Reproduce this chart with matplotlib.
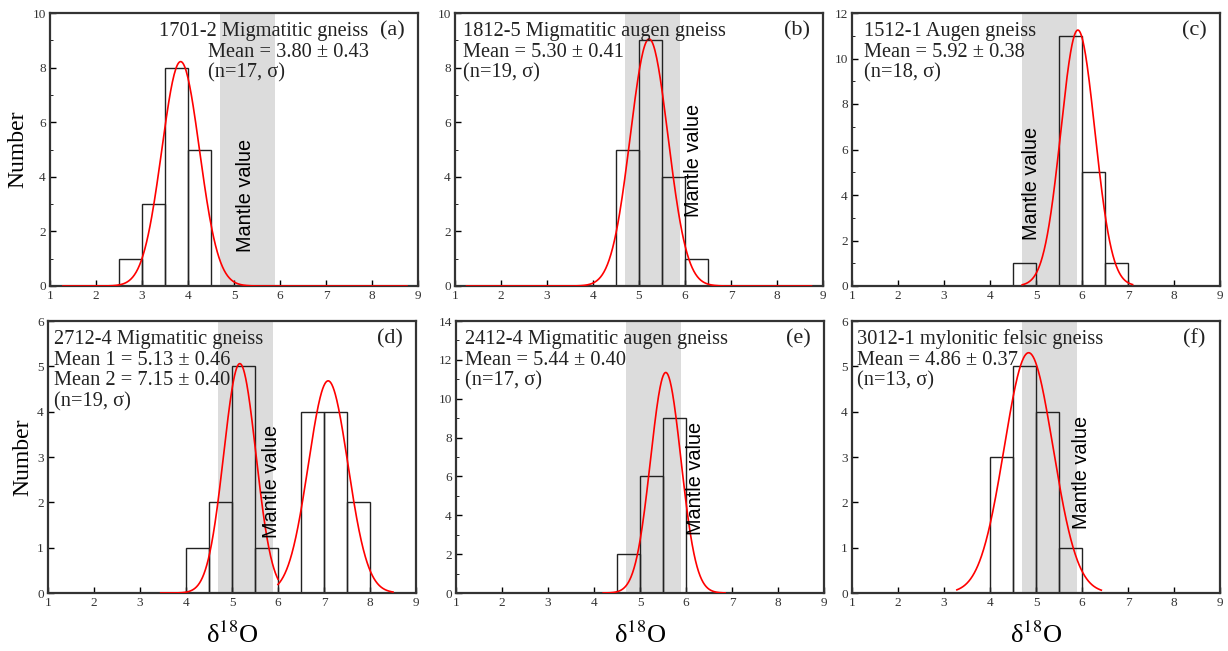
import numpy as np
import matplotlib
matplotlib.use("Agg")
import matplotlib.pyplot as plt
from matplotlib.ticker import MultipleLocator

plt.rcParams['font.family'] = ['Liberation Serif', 'DejaVu Serif']
plt.rcParams['mathtext.fontset'] = 'stix'

# histogram data (left edge of 0.5-wide bins, counts)
a_left = [2.5, 3.0, 3.5, 4.0]
a_counts = [1, 3, 8, 5]
b_left = [4.5, 5.0, 5.5, 6.0]
b_counts = [5, 9, 4, 1]
c_left = [4.5, 5.0, 5.5, 6.0, 6.5]
c_counts = [1, 0, 11, 5, 1]
d_left = [4.0, 4.5, 5.0, 5.5, 6.5, 7.0, 7.5]
d_counts = [1, 2, 5, 1, 4, 4, 2]
e_left = [4.5, 5.0, 5.5]
e_counts = [2, 6, 9]
f_left = [4.0, 4.5, 5.0, 5.5]
f_counts = [3, 5, 4, 1]

# fitted gaussian curves: (center, peak height, width, x start, x end)
a_fit = [(3.84, 8.22, 0.41, 1.28, 8.76)]
b_fit = [(5.22, 9.05, 0.41, 1.25, 8.75)]
c_fit = [(5.91, 11.25, 0.37, 4.70, 7.10)]
d_fit = [(5.17, 5.06, 0.35, 3.45, 6.0), (7.09, 4.68, 0.43, 6.0, 8.5)]
e_fit = [(5.56, 11.35, 0.33, 4.20, 6.85)]
f_fit = [(4.84, 5.30, 0.53, 3.28, 6.42)]

# annotation text
a_text = ["1701-2 Migmatitic gneiss", "Mean = 3.80 \u00b1 0.43", "(n=17, \u03c3)"]
b_text = ["1812-5 Migmatitic augen gneiss", "Mean = 5.30 \u00b1 0.41", "(n=19, \u03c3)"]
c_text = ["1512-1 Augen gneiss", "Mean = 5.92 \u00b1 0.38", "(n=18, \u03c3)"]
d_text = ["2712-4 Migmatitic gneiss", "Mean 1 = 5.13 \u00b1 0.46",
          "Mean 2 = 7.15 \u00b1 0.40", "(n=19, \u03c3)"]
e_text = ["2412-4 Migmatitic augen gneiss", "Mean = 5.44 \u00b1 0.40", "(n=17, \u03c3)"]
f_text = ["3012-1 mylonitic felsic gneiss", "Mean = 4.86 \u00b1 0.37", "(n=13, \u03c3)"]

mantle_lo, mantle_hi = 4.7, 5.9

panels = [
    # letter, left, counts, fits, text, text x (per line), ymax, ymajor, mantle label pos
    ("(a)", a_left, a_counts, a_fit, a_text, [3.37, 4.43, 4.43], 10, 2, (5.24, 3.33)),
    ("(b)", b_left, b_counts, b_fit, b_text, [1.17] * 3, 10, 2, (6.18, 4.6)),
    ("(c)", c_left, c_counts, c_fit, c_text, [1.25] * 3, 12, 2, (4.91, 4.5)),
    ("(d)", d_left, d_counts, d_fit, d_text, [1.12] * 4, 6, 1, (5.86, 2.45)),
    ("(e)", e_left, e_counts, e_fit, e_text, [1.2] * 3, 14, 2, (6.2, 5.92)),
    ("(f)", f_left, f_counts, f_fit, f_text, [1.1] * 3, 6, 1, (5.99, 2.67)),
]

fig = plt.figure(figsize=(12.28, 6.51), dpi=100)
W, H = 1228, 651
boxes = [(50, 13, 286), (455, 13, 286), (852, 13, 286),
         (48, 321, 593), (456, 321, 593), (852, 321, 593)]

for i, (letter, left, counts, fits, lines, tx, ymax, ymaj, mpos) in enumerate(panels):
    x0, top, bot = boxes[i]
    ax = fig.add_axes([x0 / W, (H - bot) / H, 368 / W, (bot - top) / H])
    ax.axvspan(mantle_lo, mantle_hi, color='#dcdcdc', lw=0, zorder=0)
    ax.bar(left, counts, width=0.5, align='edge', fill=False,
           edgecolor='#222222', linewidth=1.0, zorder=2)
    for c, h, s, xs, xe in fits:
        xx = np.linspace(xs, xe, 400)
        ax.plot(xx, h * np.exp(-(xx - c) ** 2 / (2 * s ** 2)), color='red', lw=1.2, zorder=3)
    ax.set_xlim(1, 9)
    ax.set_ylim(0, ymax)
    ax.xaxis.set_major_locator(MultipleLocator(1))
    ax.yaxis.set_major_locator(MultipleLocator(ymaj))
    if ymaj == 2:
        ax.yaxis.set_minor_locator(MultipleLocator(1))
    ax.tick_params(direction='in', labelsize=9.5, labelcolor='#333333', length=4,
                   width=1, pad=3)
    ax.tick_params(which='minor', direction='in', length=2.5)
    for sp in ax.spines.values():
        sp.set_linewidth(1.6)
        sp.set_color('#333333')
    for k, line in enumerate(lines):
        t = ax.text(tx[k], 0, line, fontsize=14.7, color='#222222', va='baseline',
                    transform=ax.get_xaxis_transform(), zorder=4)
        t.set_y(1 - 0.083 - k * 0.077)
    ax.text(0.93, 1 - 0.083, letter, fontsize=16, color='#222222', ha='center',
            va='baseline', transform=ax.transAxes)
    ax.text(mpos[0], mpos[1], "Mantle value", rotation=90, fontsize=14.3,
            family=['Liberation Sans'], ha='center', va='center', zorder=4)
    if i % 3 == 0:
        ax.set_ylabel("Number", fontsize=17, labelpad=3)
    if i >= 3:
        ax.set_xlabel(r"δ$^{18}$O", fontsize=19, labelpad=9)

fig.savefig("out.png", dpi=100)
